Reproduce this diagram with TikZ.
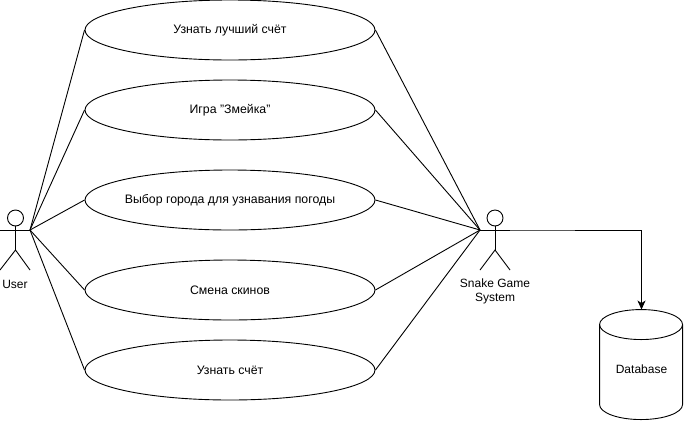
\documentclass[tikz,border=0pt]{standalone}
\usepackage{fontspec}
\setmainfont{Liberation Sans}
\usetikzlibrary{shapes.geometric,arrows.meta}
\tikzset{
  usecase/.style={draw=black,ellipse,minimum width=290pt,minimum height=60pt,inner xsep=-8pt,inner ysep=0pt,font=\fontsize{12.3}{14}\selectfont,text=black},
  lbl/.style={font=\fontsize{12}{14}\selectfont,text=black,align=center,inner sep=0pt},
  head/.style={draw=black,circle,minimum size=16pt,inner sep=0pt},
  conn/.style={draw=black,line width=0.9pt},
  flow/.style={draw=black,line width=0.9pt,-{Stealth[length=9pt,width=8pt,inset=2.5pt]}}
}
\begin{document}
\begin{tikzpicture}[x=1pt,y=-1pt,line width=0.9pt]
\useasboundingbox (0,0) rectangle (684,421);
% use cases
\node[usecase] (best) at (230,30) {Узнать лучший счёт};
\node[usecase] (game) at (230,110) {Игра "Змейка"};
\node[usecase] (city) at (230,200) {Выбор города для узнавания погоды};
\node[usecase] (skin) at (230,290) {Смена скинов};
\node[usecase] (score) at (230,370) {Узнать счёт};
% user actor
\node[head] (uhead) at (15.5,218) {};
\coordinate (ularm) at (0,230);
\coordinate (urarm) at (30,230);
\coordinate (uhip) at (15.5,250);
\coordinate (ulleg) at (0,270);
\coordinate (urleg) at (30,270);
\draw[conn] (uhead.south) -- (uhip);
\draw[conn] (ularm) -- (urarm);
\draw[conn] (ulleg) -- (uhip) -- (urleg);
\node[lbl] (ulabel) at (15,284) {User};
% system actor
\node[head] (shead) at (495,218) {};
\coordinate (slarm) at (480,230);
\coordinate (srarm) at (510,230);
\coordinate (ship) at (495,250);
\coordinate (slleg) at (480,270);
\coordinate (srleg) at (510,270);
\draw[conn] (shead.south) -- (ship);
\draw[conn] (slarm) -- (srarm);
\draw[conn] (slleg) -- (ship) -- (srleg);
\node[lbl] (slabel) at (495,291) {Snake Game\\System};
% database
\node[lbl,minimum width=83pt,minimum height=110pt] (db) at (641.5,365) {};
\node[lbl] (dbtext) at (641.5,369.5) {Database};
\draw[conn] (db.north west) ++(0,15) arc[x radius=41.5,y radius=15,start angle=180,end angle=360]
  -- ++(0,80) arc[x radius=41.5,y radius=15,start angle=0,end angle=180] -- cycle;
\draw[conn] (db.north west) ++(0,15) arc[x radius=41.5,y radius=15,start angle=180,end angle=0];
% connectors
\foreach \n in {best,game,city,skin,score} {
  \draw[conn] (urarm) -- (\n.west);
  \draw[conn] (\n.east) -- (slarm);
}
\draw[flow] (slarm) -- (srarm) -| (db.north);
\end{tikzpicture}
\end{document}
